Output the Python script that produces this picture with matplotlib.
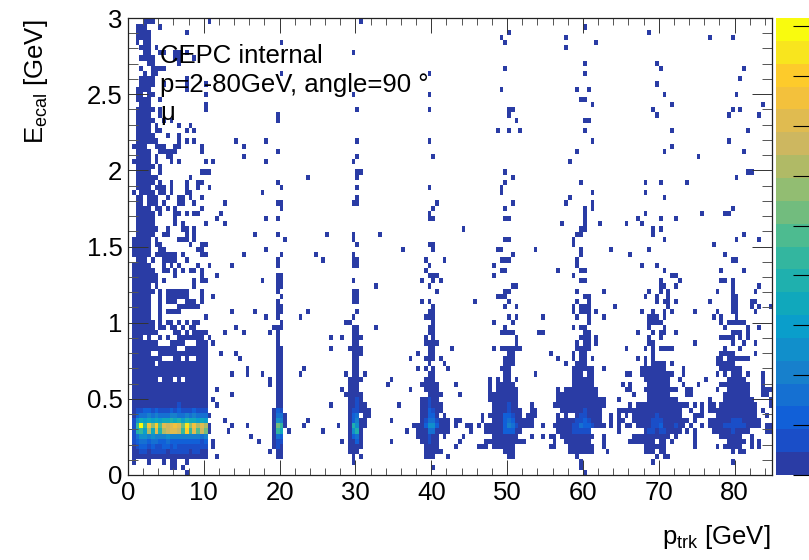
import numpy as np
import matplotlib
matplotlib.use("Agg")
import matplotlib.pyplot as plt
from matplotlib.colors import ListedColormap, BoundaryNorm
from matplotlib.ticker import MultipleLocator

plt.rcParams['font.family'] = ['Liberation Sans', 'DejaVu Sans']
plt.rcParams['mathtext.fontset'] = 'custom'
plt.rcParams['mathtext.rm'] = 'Liberation Sans'
plt.rcParams['mathtext.it'] = 'Liberation Sans'

# occupied histogram bins, listed per E bin (index = E bin), as p bin numbers
filled_rows = [
"15 120",
"11-12 14 80 119",
"1 5 9 11-12 15 59 119 138 159",
"1-20 23 39-40 59 61 78-80 84 100-101 118 139 141-142",
"1-20 37 39-40 58-60 78-82 99-101 116-122 126 136-138 140-141 159 161-162",
"1-20 22 38-40 58-61 78-81 86 92-94 96-101 111-112 116-122 125 136-141 149 155 157-161 164 166",
"1-20 22 34 38-40 56 58-61 69 77-81 87 94-104 112 115-121 125 132-138 140-141 143 149 158-162 164 166",
"1-20 32 38-40 58-61 76-81 83 88 96-102 106 109 111-112 114-122 125 133-142 144 149 156-161 164",
"2-21 26 38-40 42 51 58-61 73 76-84 90 94-103 113-121 129 136-145 147 149 154-163 168-169",
"2-21 27 31 38-41 46 55 58-62 75-84 86 89-90 92 94-106 109 112-125 127 129 131-132 134-146 148 151 153-166 168-169",
"1-20 25 38-41 47 58-62 69 77-84 86-87 93 96-106 113-124 127 129-130 133-147 149 153-166",
"1-21 38-41 58-60 62-63 77-81 83 93 95-103 105-107 113 115 118-124 127 129 131 133-145 149-151 155-165 168",
"1-20 38-40 58-63 77-82 96-103 106-107 114-124 129-145 148 151 153-165 167",
"1-20 23 39-40 53 58-62 71 77-82 96-102 106 112-125 132 134-147 149 151 153-154 156-165 169",
"1-20 22 39-40 58-61 77-81 95-102 113-125 129 137-144 153 157-164 169",
"1-20 27 39-40 57-61 79-82 87 95-102 113-123 133 137-142 147-148 157-163 167-168",
"1-20 23 39-40 56 58-60 74 78-81 95 97-102 113 115-123 131-132 136-144 147-148 155 158-163 167-169",
"1-20 37 39-40 58-60 68 77-81 86 95 97-101 117-122 130 132 137-142 146 150 156-163 167",
"1-7 9-11 13 15-20 37 39-40 58-61 69 78-80 95 97 99-100 102 117-122 136-142 145 152 158-162 167",
"1-20 27 31 35 39-40 45 57 59-60 62 79-80 99-100 107 117-119 121-122 131-132 135-143 146 155 157 159-161 163 167",
"1-20 31 39-40 46 59-60 76 78 80 84 98-100 117-122 125 135-141 146 156-161",
"1-6 8-20 39-40 59-60 79 83 99-101 115 118-120 136 138-141 143 155-159",
"1-8 12-13 15 18-20 29 39-40 59-60 74 78-80 82 99-101 113 117 119-120 122 134 136 138 155-156 158-163",
"1-5 8-20 24 28 39-40 59-61 76 79-80 100-101 111 117 119-120 138 156-159 165",
"1-12 15-20 39-40 53 58-61 79-80 85 96 98-103 118-121 131 136 138 140-143 157 161",
"1-7 11-14 18-20 22 39 59-60 78-81 102 118 120-121 123 137-138 149 159 162 165",
"1-3 5 8 10 13-19 21 39 53 56 59-61 78 80 102 119-121 123 137 140 156-159 161 163",
"1-7 12-13 15 17-20 25 30 37 39 59-60 79-80 98-101 108-109 120-121 134 138 140-141 144 159-161 163",
"1-6 8-9 11-12 14 16-17 28 38-40 59-60 65 79-80 99 117 119-120 137 141 157 163 166",
"1-6 8 10-11 13 15 17-18 40 57-58 80 96 101 121 137-140 156 158-162",
"1-5 8 20 36 39 45 59 78-80 100 102 109 118 121 125 137-139 141 154 156 160",
"1-5 8 10-13 27 33 39-40 47 60 79-80 117 119-121 123 135 138 141 143 149 155 159-160 165",
"1-5 8 13-18 39-40 80 99 102 117 119-121 128 142 159-160 164 166 169",
"1-5 8 10-12 15-17 19 39 59-60 77 79 91 100 118 121 139 141-142 144 153 159-160 164-165",
"1-5 8 10-15 19 22 40 59-60 97-99 120-121 136 139 142 159-160",
"1-6 8 10-15 19 39 59-60 81 99-100 118 125 137 140 142 155 159 165",
"1-5 7 17 39-40 65 79 101-102 140-141 144 159 166",
"1-7 9 17 19-20 35 39-40 59 77 80 82 119-120 140 145 156-157 159",
"1-7 12 19 23 39-40 79-81 96 117 143-144",
"1-6 9-10 12 14 16-17 19 78 98-99 113 119-120 141 156 162",
"1-5 9 11 13 18 21 27 39 59-60 79 96 118 135 139",
"2-4 6 9-12 15 39 51 59-60 78 83 98-100 118 159-160",
"1-5 7-12 14 19-20 30 40 49 59 101 119 132 157",
"1-5 8-9 18-19 36 72 80 97-98 107 119 127 137",
"1-5 7-8 16 19-20 60 79-80 117 154",
"1-5 7 13-15 17 41 59 99-100 117 141 160 166",
"2-6 9-10 15 17 33 39 52 59 66 118-119 138 162",
"2-7 10 14-15 17 88 119-120 138 140",
"2-6 12 14 20 25 114 120 124 131 135",
"2-6 12 23 36 39 79-80 99-100 120 134 140 144",
"2-6 8 12-13 15 17-18 24 79 120 136 151 157-158",
"2-5 7-8 10 12 19 40 80 99 120 122 159",
"2-3 5-7 9 13-14 17 25 39-40 59-60 81 101 115 122",
"2-3 5-7 10 13-14 16 19 60 116 141",
"1 3-6 8-9 11 15-16 35 98 122 136",
"2-5 7-9 11 15 18 21 40 60 79 98",
"2-6 8 11 15 18-19 39 99 119 136 140 147",
"2-7 16 47 60 101 160",
"2-5 8 19-21 60-61 99 163-164",
"2-6 8",
"1-5 7 11 13 20 22 36 59 116",
"2-5 7 10-11 30 60 80 150",
"2-5 8-12 19 39 118 141 162",
"1-4 7-9 12-13 19 30 143",
"2-7 13 15 17 28 36 60 79 122 158",
"2-6 10 13",
"2-5 7-8 15 17 97 100 103 120 143 163",
"2-5 7 13 16",
"2-6 9 11 39 102 120-121",
"2-5 8 39 100 139 158 166",
"2-6 8 20 60 79 100-101 138 159 161",
"3-5 20 122 143 167",
"2-5 8 119-120",
"2-3 5-6 20 59 79 141 160",
"2-5 15 98 118 121",
"3-6 9 15 20 139",
"3-6 15 161",
"4 6-7 40 79 120",
"3 6-9 99 140 162",
"5-6 13 120 139",
"3-6 12-13 17",
"4-5 8-9 12-13 15 59",
"3-5 7 115",
"2 4-5 40 99 123",
"2-5 98 115 153 159",
"2-5 15 100 137",
"2-4 8 120",
"4-6 21 61",
]

# colour levels of the brighter bins in the low p block: E bin -> levels for p bins 1..20
block_levels = {
    4:  [0,0,1,1,0,1,1,1,1,0,1,1,1,1,1,0,1,1,0,0],
    5:  [0,1,2,2,1,2,1,1,2,2,1,2,1,1,1,1,1,1,1,1],
    6:  [1,2,3,3,2,3,3,2,2,3,2,2,2,2,2,2,2,2,1,2],
    7:  [1,3,5,5,4,5,4,4,4,5,4,4,4,4,4,4,4,4,3,4],
    8:  [1,8,9,6,13,7,15,8,13,14,15,15,14,9,17,9,15,10,14,11],
    9:  [1,9,19,9,16,12,17,10,15,14,15,16,15,11,18,12,16,13,15,13],
    10: [1,5,7,6,7,6,7,6,7,7,8,7,8,6,8,7,7,6,7,6],
    11: [0,2,3,3,4,3,4,3,3,3,4,4,3,3,4,3,4,3,3,3],
    12: [0,1,1,2,2,1,2,1,1,1,2,1,2,1,1,1,2,1,1,1],
    13: [0,0,0,0,0,0,0,0,0,0,0,0,1,0,0,0,0,0,0,0],
}
# colour levels around the beam points: (p bin, E bin, level)
peak_levels = [
    (39,12,2),(40,12,1),(38,11,0),(39,11,3),(40,11,3),(39,10,5),(40,10,4),(39,9,11),(40,9,9),
    (39,8,9),(40,8,7),(39,7,3),(40,7,2),(39,6,1),(40,6,1),(39,5,1),
    (60,14,1),(60,13,1),(59,12,1),(60,12,1),(59,11,2),(60,11,3),(59,10,2),(60,10,4),
    (59,9,8),(60,9,5),(59,8,5),(60,8,8),(59,7,2),(60,7,3),(60,6,2),
    (79,14,1),(79,13,1),(79,12,2),(80,12,1),(79,11,2),(80,11,2),(78,10,1),(79,10,3),(80,10,3),(81,10,1),
    (78,9,2),(79,9,5),(80,9,5),(81,9,2),(79,8,3),(80,8,3),(79,7,1),(79,6,1),
    (100,13,1),(100,12,1),(99,11,2),(100,11,2),(101,11,1),(99,10,2),(100,10,3),(101,10,2),
    (99,9,2),(100,9,4),(101,9,3),(102,9,1),(99,8,2),(100,8,2),(101,8,2),
    (120,12,1),(119,11,1),(120,11,1),(118,10,1),(119,10,1),(120,10,2),(121,10,1),
    (117,9,1),(118,9,1),(119,9,3),(120,9,2),(121,9,2),(122,9,1),
    (117,8,1),(118,8,1),(119,8,1),(120,8,1),(121,8,1),
    (139,11,1),(138,10,1),(139,10,1),(140,10,1),(138,9,1),(139,9,1),(140,9,2),(144,9,1),
    (137,8,1),(138,8,1),(140,8,1),(141,8,1),
    (159,10,1),(160,10,1),(161,10,1),(157,9,1),(158,9,1),(159,9,1),(160,9,1),(161,9,1),(162,9,1),(159,8,1),
]
palette = ['#2A3CA5','#1A4EC8','#1160D8','#1570D2','#1780CC','#118FCB','#0A9ECB','#10A8BC','#1FB0AE','#33B69F',
           '#4DBB90','#72BC7E','#92BD72','#B0BA66','#CDB760','#E0BB50','#F3C13C','#FDCB2B','#F8E51E','#F9FB0E']
z_max = 9.16
x_ticks = [0, 10, 20, 30, 40, 50, 60, 70, 80]
y_ticks = [0, 0.5, 1, 1.5, 2, 2.5, 3]
y_tick_labels = ['0', '0.5', '1', '1.5', '2', '2.5', '3']
z_ticks = [0, 1, 2, 3, 4, 5, 6, 7, 8, 9]

n_x, n_y = 170, 90
levels = np.full((n_y, n_x), np.nan)
for r, s in enumerate(filled_rows):
    for tok in s.split():
        a, _, b = tok.partition('-')
        levels[r, int(a):int(b or a) + 1] = 0
for r, vals in block_levels.items():
    for c, v in enumerate(vals, start=1):
        levels[r, c] = v
for c, r, v in peak_levels:
    levels[r, c] = v
values = (levels + 0.5) * z_max / 20

W, H = 809, 560
fig = plt.figure(figsize=(W / 100, H / 100), dpi=100)
ax = fig.add_axes([128 / W, 1 - 475 / H, 644.5 / W, 457 / H])

x_edges = np.arange(n_x + 1) * 0.5
y_edges = np.arange(n_y + 1) * 0.034
cmap = ListedColormap(palette)
norm = BoundaryNorm(np.linspace(0, z_max, 21), 20)
mesh = ax.pcolormesh(x_edges, y_edges, np.ma.masked_invalid(values), cmap=cmap, norm=norm, linewidth=0)
ax.set_xlim(0, 85)
ax.set_ylim(0, 3)

ax.set_xticks(x_ticks)
ax.set_yticks(y_ticks, y_tick_labels)
ax.xaxis.set_minor_locator(MultipleLocator(2))
ax.yaxis.set_minor_locator(MultipleLocator(0.1))
ax.tick_params(axis='x', which='major', direction='in', top=True, length=10.5, width=0.7, labelsize=18.5, pad=4.5, color='#333333')
ax.tick_params(axis='x', which='minor', direction='in', top=True, length=5, width=0.7, color='#555555')
ax.tick_params(axis='y', which='major', direction='in', right=True, length=14.5, width=0.7, labelsize=18.5, pad=4, color='#333333')
ax.tick_params(axis='y', which='minor', direction='in', right=True, length=7.2, width=0.7, color='#555555')
for s in ax.spines.values():
    s.set_linewidth(0.9)
    s.set_color('#222222')

cax = fig.add_axes([776 / W, 1 - 475 / H, 33 / W, 457 / H])
cb = fig.colorbar(mesh, cax=cax, spacing='proportional', ticks=z_ticks)
cb.outline.set_visible(False)
cb.ax.minorticks_off()
cb.ax.tick_params(which='major', direction='in', length=11.5, width=0.8, labelright=False, right=True, color='black', pad=0)

fig.text(160 / W, 1 - 63 / H, 'CEPC internal', fontsize=18.5, color='black', va='baseline', ha='left')
fig.text(160 / W, 1 - 92 / H, 'p=2-80GeV, angle=90 °', fontsize=18.5, color='black', va='baseline', ha='left')
fig.text(160 / W, 1 - 120 / H, 'μ', fontsize=18.5, color='black', va='baseline', ha='left')

fig.text(36 / W, 1 - 20 / H, r'$\mathrm{E_{ecal}}$ [GeV]', rotation=90, fontsize=18.5, ha='center', va='top')
fig.text(770 / W, 1 - 544 / H, r'$\mathrm{p_{trk}}$ [GeV]', fontsize=18.5, ha='right', va='baseline')

fig.savefig('out.png', dpi=100)
